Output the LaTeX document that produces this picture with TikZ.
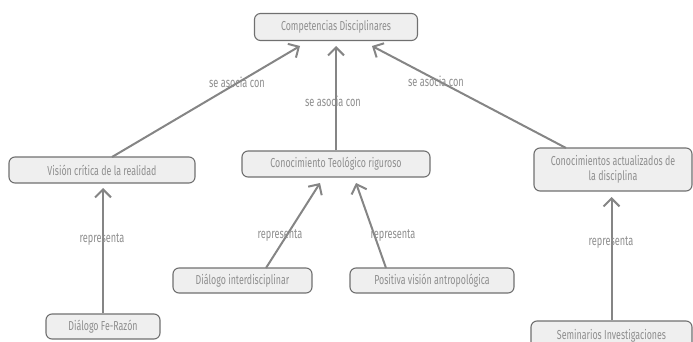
\documentclass[tikz,border=0pt]{standalone}
\usepackage{fontspec}
\setmainfont[FakeStretch=0.68]{Fira Sans}
\usetikzlibrary{arrows.meta}
\definecolor{boxline}{HTML}{707070}
\definecolor{boxfill}{HTML}{EFEFEF}
\definecolor{boxtext}{HTML}{8E8E8E}
\definecolor{linkgray}{HTML}{858585}
\tikzset{
  concept/.style={draw=boxline, fill=boxfill, line width=1.1pt, rounded corners=6pt,
    text=boxtext, font=\fontsize{13}{15}\selectfont, inner sep=0pt, align=center},
  link/.style={draw=linkgray, line width=2pt,
    -{Straight Barb[length=8pt, width=16pt, line width=2pt]}},
  linklabel/.style={text=boxtext, font=\fontsize{13.5}{15}\selectfont, inner sep=0pt}
}
\begin{document}
\begin{tikzpicture}[x=1pt, y=-1pt]
  \useasboundingbox (0,0) rectangle (693,342);
  % concept boxes
  \node[concept, minimum width=163pt, minimum height=27pt] (comp) at (336,27) {Competencias Disciplinares};
  \node[concept, minimum width=186pt, minimum height=26pt] (vision) at (102,170) {Visión crítica de la realidad};
  \node[concept, minimum width=188pt, minimum height=26pt] (teol) at (336,164) {Conocimiento Teológico riguroso};
  \node[concept, minimum width=158pt, minimum height=43pt] (actual) at (613,169.5) {Conocimientos actualizados de\\la disciplina};
  \node[concept, minimum width=139pt, minimum height=25pt] (inter) at (242.5,280.5) {Diálogo interdisciplinar};
  \node[concept, minimum width=164pt, minimum height=25pt] (antro) at (432,280.5) {Positiva visión antropológica};
  \node[concept, minimum width=114pt, minimum height=25pt] (ferazon) at (103,326.5) {Diálogo Fe-Razón};
  \node[concept, minimum width=161pt, minimum height=30pt] (semin) at (611.5,336) {Seminarios Investigaciones};
  % anchor points of the connectors
  \coordinate (compL) at (300,46);
  \coordinate (compM) at (336,46);
  \coordinate (compR) at (372,46);
  \coordinate (teolL) at (320,183);
  \coordinate (teolR) at (356,183);
  % connectors
  \draw[link] (112,157) -- (compL);
  \draw[link] (teol.north) -- (compM);
  \draw[link] (566,148) -- (compR);
  \draw[link] (ferazon.north) -- (103,188);
  \draw[link] (266,268) -- (teolL);
  \draw[link] (386,268) -- (teolR);
  \draw[link] (semin.north) -- (611.5,197);
  % link labels
  \node[linklabel] (l1) at (237,82) {se asocia con};
  \node[linklabel] (l2) at (333,101) {se asocia con};
  \node[linklabel] (l3) at (436,81) {se asocia con};
  \node[linklabel] (l4) at (102,240) {representa};
  \node[linklabel] (l5) at (280,236) {representa};
  \node[linklabel] (l6) at (393,236) {representa};
  \node[linklabel] (l7) at (611,243) {representa};
\end{tikzpicture}
\end{document}
